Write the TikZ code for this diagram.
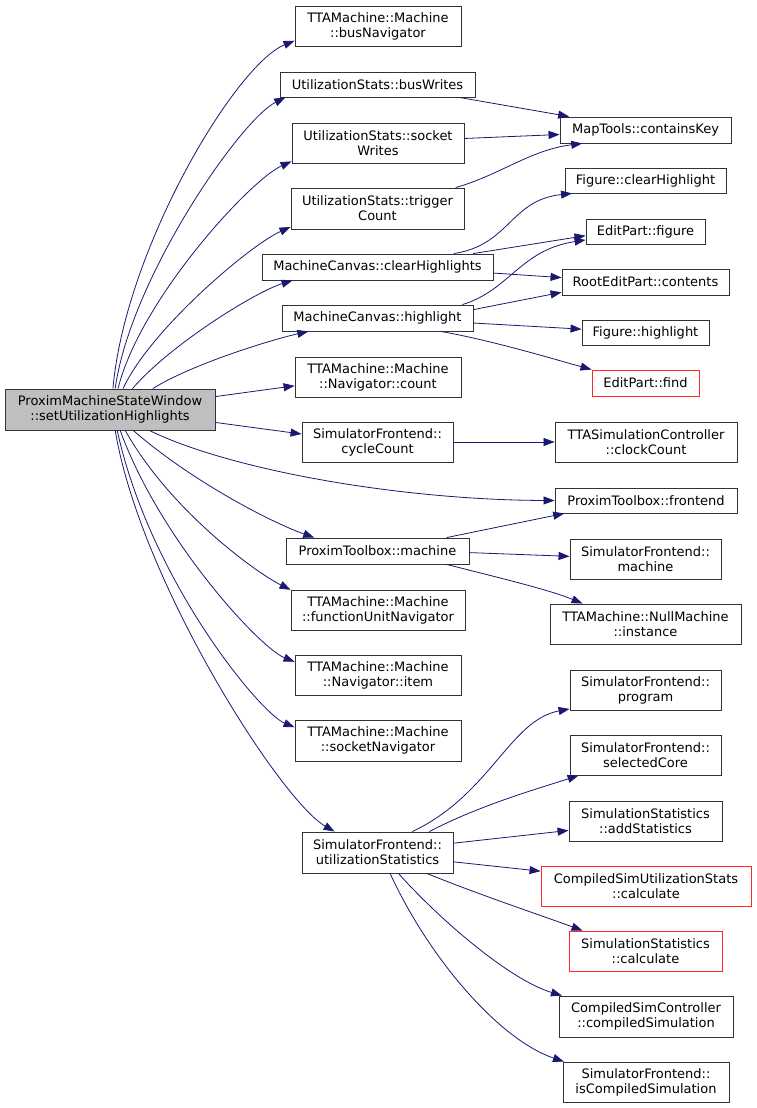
\documentclass[tikz,border=0pt]{standalone}
\usepackage{fontspec}
\setmainfont{DejaVu Sans}
\usepackage{tikz}
\usetikzlibrary{arrows.meta}
\definecolor{edgeblue}{HTML}{191970}

\begin{document}
\begin{tikzpicture}[
  x=1pt, y=-1pt,
  fn/.style={draw=black!80, line width=0.9pt, align=center, inner sep=0pt, font=\fontsize{13}{15}\selectfont},
  fnred/.style={fn, draw=red!85!white},
  fnmain/.style={fn, fill=black!25},
  sz/.style 2 args={minimum width=#1pt, minimum height=#2pt},
  arr/.style={-{Triangle[length=11pt,width=8pt]}, draw=edgeblue, line width=0.8pt}
]
\useasboundingbox (0,0) rectangle (756,1108);
% caller
\node[fnmain, sz={210}{41}] (main) at (110,409.5) {ProximMachineStateWindow\\::setUtilizationHighlights};
% first column
\node[fn, sz={166}{40}] (busNav) at (378,26) {TTAMachine::Machine\\::busNavigator};
\node[fn, sz={195}{25}] (busWr) at (377.5,84.5) {UtilizationStats::busWrites};
\node[fn, sz={172}{40}] (sockWr) at (378,143) {UtilizationStats::socket\\Writes};
\node[fn, sz={173}{41}] (trigCnt) at (377.5,208.5) {UtilizationStats::trigger\\Count};
\node[fn, sz={231}{26}] (clearHl) at (377.5,267) {MachineCanvas::clearHighlights};
\node[fn, sz={191}{26}] (mcHl) at (377.5,318) {MachineCanvas::highlight};
\node[fn, sz={166}{40}] (navCnt) at (378,377) {TTAMachine::Machine\\::Navigator::count};
\node[fn, sz={151}{40}] (cycCnt) at (377.5,442) {SimulatorFrontend::\\cycleCount};
\node[fn, sz={183}{26}] (ptMach) at (377.5,551) {ProximToolbox::machine};
\node[fn, sz={174}{40}] (fuNav) at (378,610) {TTAMachine::Machine\\::functionUnitNavigator};
\node[fn, sz={166}{40}] (navItem) at (378,675) {TTAMachine::Machine\\::Navigator::item};
\node[fn, sz={166}{41}] (sockNav) at (378,740.5) {TTAMachine::Machine\\::socketNavigator};
\node[fn, sz={151}{41}] (utilStat) at (377.5,852.5) {SimulatorFrontend::\\utilizationStatistics};
% second column
\node[fn, sz={171}{26}] (contKey) at (645.5,130) {MapTools::containsKey};
\node[fn, sz={161}{25}] (figClr) at (645.5,180.5) {Figure::clearHighlight};
\node[fn, sz={119}{25}] (epFig) at (645.5,231.5) {EditPart::figure};
\node[fn, sz={167}{26}] (rootCont) at (645.5,282) {RootEditPart::contents};
\node[fn, sz={127}{25}] (figHl) at (645.5,332.5) {Figure::highlight};
\node[fnred, sz={107}{26}] (epFind) at (645.5,383) {EditPart::find};
\node[fn, sz={182}{40}] (clock) at (646,442) {TTASimulationController\\::clockCount};
\node[fn, sz={182}{25}] (ptFront) at (646,500.5) {ProximToolbox::frontend};
\node[fn, sz={151}{40}] (sfMach) at (645.5,559) {SimulatorFrontend::\\machine};
\node[fn, sz={191}{40}] (nullInst) at (645.5,624) {TTAMachine::NullMachine\\::instance};
\node[fn, sz={151}{40}] (sfProg) at (645.5,690) {SimulatorFrontend::\\program};
\node[fn, sz={151}{40}] (sfCore) at (645.5,755) {SimulatorFrontend::\\selectedCore};
\node[fn, sz={153}{40}] (addStat) at (645.5,821) {SimulationStatistics\\::addStatistics};
\node[fnred, sz={210}{40}] (csuCalc) at (646,886) {CompiledSimUtilizationStats\\::calculate};
\node[fnred, sz={153}{40}] (ssCalc) at (645.5,951) {SimulationStatistics\\::calculate};
\node[fn, sz={174}{41}] (csCompSim) at (646,1016.5) {CompiledSimController\\::compiledSimulation};
\node[fn, sz={166}{40}] (isComp) at (646,1082) {SimulatorFrontend::\\isCompiledSimulation};
% calls from the caller
\draw[arr] (main.82) .. controls (125,250) and (235,65) .. (busNav.190);
\draw[arr] (main.76) .. controls (130,280) and (240,120) .. (busWr.188);
\draw[arr] (main.69) .. controls (140,300) and (250,180) .. (sockWr.192);
\draw[arr] (main.58) .. controls (150,330) and (250,245) .. (trigCnt.192);
\draw[arr] (main.43) .. controls (170,345) and (255,292) .. (clearHl.189);
\draw[arr] (main.26) .. controls (190,365) and (270,340) .. (mcHl.191);
\draw[arr] (main.7) -- (navCnt.186);
\draw[arr] (main.-7) -- (cycCnt.174);
\draw[arr] (main.-28) .. controls (230,470) and (400,500) .. (ptFront.west);
\draw[arr] (main.-42) .. controls (190,480) and (270,522) .. (ptMach.168);
\draw[arr] (main.-54) .. controls (170,510) and (255,572) .. (fuNav.167);
\draw[arr] (main.-64) .. controls (160,540) and (260,648) .. (navItem.171);
\draw[arr] (main.-71) .. controls (150,580) and (260,713) .. (sockNav.171);
\draw[arr] (main.-76) .. controls (140,580) and (280,800) .. (utilStat.154);
% second level
\draw[arr] (busWr.-9) -- (contKey.170);
\draw[arr] (sockWr.3) -- (contKey.183);
\draw[arr] (trigCnt.15) .. controls (500,175) and (530,150) .. (contKey.192);
\draw[arr] (clearHl.10) .. controls (510,245) and (510,200) .. (figClr.190);
\draw[arr] (clearHl.8) -- (epFig.184);
\draw[arr] (clearHl.-3) -- (rootCont.177);
\draw[arr] (mcHl.9) .. controls (510,290) and (520,250) .. (epFig.188);
\draw[arr] (mcHl.5) -- (rootCont.187);
\draw[arr] (mcHl.-3) -- (figHl.177);
\draw[arr] (mcHl.-12) .. controls (490,340) and (550,358) .. (epFind.166);
\draw[arr] (cycCnt) -- (clock);
\draw[arr] (ptMach.11) -- (ptFront.189);
\draw[arr] (ptMach.-1) -- (sfMach.178);
\draw[arr] (ptMach.-11) .. controls (500,578) and (550,590) .. (nullInst.162);
\draw[arr] (utilStat.31) .. controls (490,795) and (510,720) .. (sfProg.194);
\draw[arr] (utilStat.22) .. controls (480,805) and (540,788) .. (sfCore.197);
\draw[arr] (utilStat.7) -- (addStat.187);
\draw[arr] (utilStat.-7) -- (csuCalc.172);
\draw[arr] (utilStat.-23) .. controls (480,895) and (540,915) .. (ssCalc.162);
\draw[arr] (utilStat.-45) .. controls (440,920) and (510,980) .. (csCompSim.166);
\draw[arr] (utilStat.-59) .. controls (430,960) and (500,1040) .. (isComp.166);
\end{tikzpicture}
\end{document}
